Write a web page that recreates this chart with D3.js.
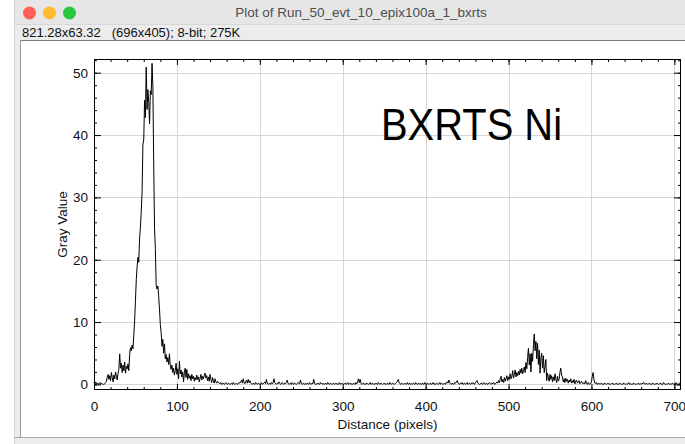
<!DOCTYPE html>
<html>
<head>
<meta charset="utf-8">
<script src="https://cdn.jsdelivr.net/npm/d3@7"></script>
<style>
  body { margin: 0; background: #ffffff; }
  svg { display: block; font-family: "Liberation Sans", Arial, sans-serif; }
</style>
</head>
<body>
<div id="plot"></div>
<script>
var w = 685;
var h = 444;

var windowTitle = "Plot of Run_50_evt_10_epix100a_1_bxrts";
var infoLine = "821.28x63.32   (696x405); 8-bit; 275K";
var label = "BXRTS Ni";
var xTitle = "Distance (pixels)";
var yTitle = "Gray Value";

var xTicks = [0, 100, 200, 300, 400, 500, 600, 700];
var yTicks = [0, 10, 20, 30, 40, 50];

// gray value along the profile, one value per pixel of distance (0..708)
var grayValues = [
  0.3,0.0,0.4,0.1,0.2,0.0,0.1,0.3,0.0,0.2,0.1,0.0,0.0,0.1,0.3,
  0.5,1.2,1.6,0.8,1.4,0.6,1.9,1.1,0.4,1.5,0.9,2.0,1.3,0.7,1.8,2.4,
  4.9,2.6,3.4,1.9,3.1,2.2,3.6,1.8,2.9,2.5,3.3,2.2,
  4.8,5.9,5.4,6.3,5.7,8.0,
  10.2,13.5,16.8,18.9,20.4,19.6,23.5,25.2,
  27.8,30.9,38.5,39.2,
  45.6,42.8,50.9,44.1,47.3,45.2,41.8,47.1,46.5,51.5,47.8,35.6,
  25.2,21.8,15.9,15.3,15.8,14.2,12.1,9.6,
  8.3,6.1,7.2,5.0,6.5,4.1,4.8,3.6,4.3,3.2,4.9,3.0,
  2.4,3.1,1.9,2.6,1.5,2.2,3.4,1.6,2.5,0.9,3.7,1.7,2.3,1.2,2.0,0.4,1.9,2.6,1.1,2.4,0.8,1.7,1.0,
  1.4,0.6,1.6,0.9,1.3,0.5,1.1,0.7,1.5,0.8,1.2,0.4,1.0,1.6,0.7,1.3,0.9,1.5,1.8,1.0,1.4,0.6,1.2,0.5,1.6,0.8,0.3,1.1,0.6,0.2,0.9,0.4,0.2,0.5,0.3,
  0.2,0.1,0.3,0.0,0.1,0.2,0.0,0.1,0.3,0.1,0.0,0.2,0.1,0.0,0.1,0.2,0.0,0.3,0.1,0.0,
  0.1,0.2,0.0,0.1,0.3,0.2,0.4,0.7,0.2,0.9,0.3,0.1,0.4,0.7,0.2,0.8,0.3,0.6,0.2,0.1,
  0.0,0.2,0.1,0.0,0.3,0.1,0.0,0.2,0.1,0.0,0.1,0.3,0.0,0.1,0.2,0.4,0.1,0.8,0.2,0.0,
  0.1,0.2,0.0,0.3,0.1,0.2,0.9,0.3,0.1,0.0,0.2,0.1,0.4,0.2,0.0,0.1,0.3,0.1,0.0,0.2,
  0.1,0.3,0.7,0.2,0.0,0.1,0.2,0.0,0.3,0.1,0.0,0.2,0.1,0.0,0.1,0.3,0.2,0.1,0.7,0.2,
  0.0,0.1,0.2,0.0,0.1,0.0,0.2,0.1,0.0,0.3,0.1,0.0,0.2,0.1,0.8,0.2,0.0,0.1,0.0,0.2,
  0.1,0.0,0.3,0.1,0.2,0.0,0.1,0.0,0.2,0.1,0.0,0.3,0.1,0.0,0.2,0.1,0.0,0.1,0.2,0.0,
  0.1,0.2,0.0,0.1,0.0,0.3,0.1,0.0,0.2,0.1,0.0,0.1,0.2,0.0,0.1,0.3,0.0,0.1,0.2,0.0,
  0.1,0.0,0.2,0.1,0.0,0.3,0.1,0.4,0.9,0.3,0.8,0.2,0.0,0.1,0.2,0.0,0.1,0.0,0.2,0.1,
  0.0,0.1,0.3,0.0,0.1,0.2,0.0,0.1,0.0,0.2,0.1,0.0,0.3,0.1,0.0,0.2,0.1,0.0,0.1,0.2,
  0.0,0.1,0.0,0.2,0.1,0.0,0.3,0.1,0.0,0.2,0.1,0.0,0.1,0.2,0.3,0.5,0.8,0.3,0.1,0.0,
  0.2,0.1,0.0,0.1,0.2,0.0,0.1,0.3,0.0,0.1,0.2,0.0,0.1,0.0,0.2,0.1,0.0,0.3,0.1,0.0,
  0.1,0.2,0.0,0.1,0.0,0.2,0.1,0.0,0.3,0.1,0.0,0.2,0.1,0.0,0.1,0.2,0.0,0.1,0.3,0.0,
  0.1,0.0,0.2,0.1,0.0,0.1,0.3,0.0,0.2,0.1,0.0,0.1,0.2,0.0,0.3,0.4,0.2,0.7,0.3,0.1,
  0.0,0.2,0.1,0.0,0.3,0.2,0.4,0.6,0.2,0.1,0.0,0.2,0.1,0.3,0.0,0.1,0.2,0.0,0.1,0.3,
  0.0,0.1,0.2,0.0,0.1,0.3,0.1,0.2,0.0,0.3,0.4,0.6,0.2,0.1,0.0,
  0.1,0.2,0.0,0.1,0.3,0.1,0.0,0.2,0.1,0.0,0.2,0.3,0.1,0.0,0.2,0.1,0.3,0.0,0.1,0.2,0.4,0.2,0.6,0.3,0.9,
  1.3,0.4,0.8,0.3,1.1,0.5,0.9,1.4,0.6,1.2,0.8,1.7,0.9,1.3,2.2,1.0,1.6,2.3,1.2,1.9,
  1.4,2.1,1.5,2.4,1.8,2.6,1.7,2.2,2.8,1.9,3.5,2.5,4.3,5.8,3.1,4.9,2.0,5.0,3.7,6.2,
  8.1,5.4,6.9,4.1,6.6,3.2,5.5,1.8,4.2,5.0,2.6,4.6,1.9,2.9,4.0,0.6,1.8,1.1,0.5,1.6,
  0.8,1.4,0.4,1.2,0.6,1.7,0.9,0.3,1.3,0.5,0.8,1.9,2.6,1.5,1.2,0.4,0.9,0.3,1.0,0.5,
  0.8,0.2,0.7,0.4,0.9,0.2,0.6,0.3,0.8,0.1,0.5,0.7,0.2,0.4,0.6,0.1,0.3,0.5,0.2,0.1,
  0.3,0.1,0.6,0.2,0.0,0.3,0.1,0.0,0.2,0.4,1.3,1.9,0.8,0.2,0.1,0.3,0.0,0.1,0.2,0.0,
  0.1,0.2,0.0,0.1,0.0,0.2,0.1,0.0,0.1,0.2,0.0,0.1,0.0,0.1,0.2,0.0,0.1,0.0,0.1,0.2,
  0.0,0.1,0.0,0.2,0.1,0.0,0.1,0.0,0.2,0.1,0.0,0.1,0.0,0.1,0.3,0.0,0.1,0.0,0.1,0.0,
  0.2,0.1,0.0,0.1,0.0,0.1,0.2,0.0,0.1,0.0,0.2,0.1,0.3,0.1,0.0,0.2,0.1,0.0,0.1,0.2,
  0.0,0.1,0.0,0.2,0.1,0.0,0.1,0.0,0.2,0.1,0.0,0.1,0.2,0.0,0.1,0.0,0.3,0.1,0.0,0.1,
  0.0,0.1,0.2,0.0,0.1,0.0,0.1,0.2,0.0,0.1,0.0,0.3,0.1,0.0,0.1,0.2,0.1,0.0
];

var frame = {left: 94, right: 681, top: 59, bottom: 390};

var svg = d3.select("#plot")
            .append("svg")
            .attr("width", w)
            .attr("height", h);

// window chrome
svg.append("rect").attr("x", 14).attr("y", 0).attr("width", w - 14).attr("height", h)
   .attr("fill", "#ececec");
svg.append("line").attr("x1", 14.5).attr("x2", 14.5).attr("y1", 0).attr("y2", h)
   .attr("stroke", "#d4d4d4");
svg.append("rect").attr("x", 15).attr("y", 0).attr("width", w - 15).attr("height", 24)
   .attr("fill", "#e6e6e6");
svg.append("line").attr("x1", 15).attr("x2", w).attr("y1", 24.5).attr("y2", 24.5)
   .attr("stroke", "#d8d8d8");

var lights = ["#fe5f57", "#febc2e", "#28c840"];
svg.selectAll(".light")
   .data(lights)
   .enter()
   .append("circle")
   .attr("cx", function(d, i) { return 29.5 + i * 20; })
   .attr("cy", 13)
   .attr("r", 6.5)
   .attr("fill", function(d) { return d; });

svg.append("text").attr("x", 361).attr("y", 17)
   .attr("text-anchor", "middle")
   .attr("font-size", 13.5)
   .attr("fill", "#4d4d4d")
   .text(windowTitle);

svg.append("text").attr("x", 22).attr("y", 37)
   .attr("font-size", 13)
   .attr("fill", "#111")
   .style("white-space", "pre")
   .text(infoLine);

// image canvas
svg.append("rect").attr("x", 20).attr("y", 40).attr("width", w - 20).attr("height", 397)
   .attr("fill", "#ffffff");
svg.append("line").attr("x1", 20).attr("x2", w).attr("y1", 40.5).attr("y2", 40.5)
   .attr("stroke", "#7a7a7a");
svg.append("line").attr("x1", 20.5).attr("x2", 20.5).attr("y1", 40).attr("y2", 437)
   .attr("stroke", "#9a9a9a");
svg.append("line").attr("x1", 14).attr("x2", w).attr("y1", 437.5).attr("y2", 437.5)
   .attr("stroke", "#a8a8a8");

var x = d3.scaleLinear()
          .domain([0, 708])
          .range([frame.left, frame.right]);

var y = d3.scaleLinear()
          .domain([-0.9, 52.2])
          .range([frame.bottom, frame.top]);

var xMinor = d3.range(0, 709, 20);
var yMinor = d3.range(0, 53, 2);

// grid
svg.append("g").selectAll("line")
   .data(xTicks.slice(1))
   .enter()
   .append("line")
   .attr("x1", function(d) { return Math.round(x(d)) + 0.5; })
   .attr("x2", function(d) { return Math.round(x(d)) + 0.5; })
   .attr("y1", frame.top)
   .attr("y2", frame.bottom)
   .attr("stroke", "#d6d6d6");

svg.append("g").selectAll("line")
   .data(yTicks)
   .enter()
   .append("line")
   .attr("x1", frame.left)
   .attr("x2", frame.right)
   .attr("y1", function(d) { return Math.round(y(d)) + 0.5; })
   .attr("y2", function(d) { return Math.round(y(d)) + 0.5; })
   .attr("stroke", "#d6d6d6");

// the profile
var line = d3.line()
             .x(function(d, i) { return x(i); })
             .y(function(d) { return y(d); });

svg.append("path")
   .datum(grayValues)
   .attr("d", line)
   .attr("fill", "none")
   .attr("stroke", "#000")
   .attr("stroke-width", 1)
   .attr("id", "profile");

// ticks on all four sides, pointing inward
var fmt = function() { return ""; };
var addAxis = function(axis, tx, ty) {
   var g = svg.append("g")
              .attr("transform", "translate(" + tx + "," + ty + ")")
              .call(axis);
   g.select(".domain").remove();
   g.selectAll("line").attr("stroke", "#000");
   return g;
};

addAxis(d3.axisBottom(x).tickValues(xMinor).tickSize(-3).tickFormat(fmt), 0, frame.bottom);
addAxis(d3.axisTop(x).tickValues(xMinor).tickSize(-3).tickFormat(fmt), 0, frame.top);
addAxis(d3.axisLeft(y).tickValues(yMinor).tickSize(-3).tickFormat(fmt), frame.left, 0);
addAxis(d3.axisRight(y).tickValues(yMinor).tickSize(-3).tickFormat(fmt), frame.right, 0);

addAxis(d3.axisTop(x).tickValues(xTicks).tickSize(-6).tickFormat(fmt), 0, frame.top);
addAxis(d3.axisRight(y).tickValues(yTicks).tickSize(-7).tickFormat(fmt), frame.right, 0);

var xAxis = addAxis(d3.axisBottom(x).tickValues(xTicks).tickSize(-6).tickPadding(11), 0, frame.bottom);
xAxis.selectAll("text").attr("font-size", 13.5).attr("fill", "#111")
     .attr("font-family", "Liberation Sans, Arial, sans-serif");

var yAxis = addAxis(d3.axisLeft(y).tickValues(yTicks).tickSize(-7).tickPadding(6), frame.left, 0);
yAxis.selectAll("text").attr("font-size", 13.5).attr("fill", "#111")
     .attr("font-family", "Liberation Sans, Arial, sans-serif");

svg.append("rect")
   .attr("x", frame.left + 0.5)
   .attr("y", frame.top + 0.5)
   .attr("width", frame.right - frame.left - 1)
   .attr("height", frame.bottom - frame.top - 1)
   .attr("fill", "none")
   .attr("stroke", "#000");

// titles
svg.append("text")
   .attr("x", (frame.left + frame.right) / 2)
   .attr("y", 429)
   .attr("text-anchor", "middle")
   .attr("font-size", 13.5)
   .attr("fill", "#111")
   .text(xTitle);

svg.append("text")
   .attr("transform", "translate(67," + (frame.top + frame.bottom) / 2 + ") rotate(-90)")
   .attr("text-anchor", "middle")
   .attr("font-size", 13.5)
   .attr("fill", "#111")
   .text(yTitle);

svg.append("text")
   .attr("x", 381)
   .attr("y", 140)
   .attr("font-size", 44)
   .attr("textLength", 181)
   .attr("lengthAdjust", "spacingAndGlyphs")
   .attr("fill", "#000")
   .text(label);
</script>
</body>
</html>
